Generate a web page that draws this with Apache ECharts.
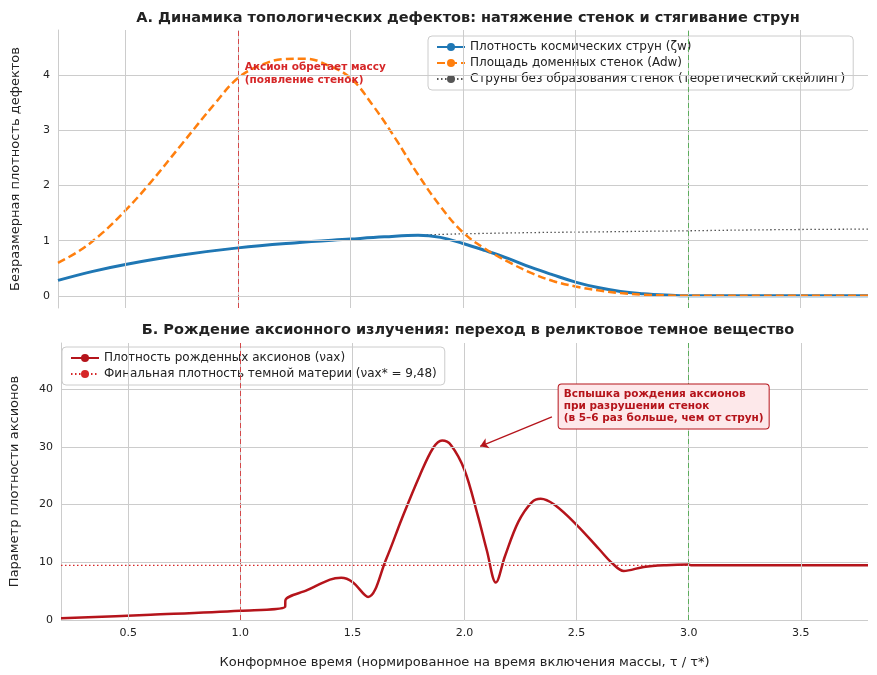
<!DOCTYPE html>
<html><head><meta charset="utf-8">
<script src="https://cdn.jsdelivr.net/npm/echarts@6/dist/echarts.min.js"></script>
<style>html,body{margin:0;padding:0;background:#fff}#c{width:877px;height:675px}</style>
</head><body><div id="c"></div>
<script>
const xTicks=[0.5,1.0,1.5,2.0,2.5,3.0,3.5];
const xTickLabels=['0.5','1.0','1.5','2.0','2.5','3.0','3.5'];
const strings=[[0.2,0.28],[0.35,0.44],[0.5,0.57],[0.75,0.74],[1.0,0.87],[1.25,0.96],[1.5,1.03],[1.65,1.07],[1.8,1.1],[1.9,1.06],[2.0,0.95],[2.1,0.82],[2.2,0.68],[2.3,0.52],[2.4,0.38],[2.5,0.25],[2.6,0.15],[2.7,0.08],[2.8,0.04],[2.9,0.015],[3.0,0.0],[3.4,0],[3.8,0]];
const walls=[[0.2,0.6],[0.3,0.83],[0.4,1.15],[0.5,1.55],[0.6,2.0],[0.75,2.75],[0.9,3.5],[1.0,3.95],[1.1,4.18],[1.2,4.29],[1.3,4.3],[1.4,4.18],[1.5,3.95],[1.6,3.45],[1.7,2.85],[1.8,2.2],[1.9,1.62],[2.0,1.15],[2.1,0.85],[2.2,0.62],[2.3,0.42],[2.4,0.27],[2.5,0.17],[2.6,0.1],[2.7,0.05],[2.8,0.02],[2.9,0.01],[3.0,0],[3.4,0],[3.8,0]];
const scaling=[[0.2,0.28],[0.35,0.44],[0.5,0.57],[0.75,0.74],[1.0,0.87],[1.25,0.96],[1.5,1.03],[1.8,1.1],[2.2,1.14],[2.6,1.16],[3.0,1.18],[3.4,1.2],[3.8,1.21]];
const axions=[[0.2,0.3],[0.6,0.9],[1.0,1.6],[1.2,2.3],[1.201,3.4],[1.3,5.2],[1.4,7.0],[1.45,7.3],[1.5,6.6],[1.57,4.0],[1.65,10.5],[1.72,17.5],[1.8,25],[1.86,29.8],[1.9,31.1],[1.94,30.3],[2.0,26],[2.06,18],[2.1,12],[2.14,6.5],[2.18,11],[2.24,17],[2.3,20.4],[2.34,21],[2.4,20],[2.5,16.5],[2.6,12.3],[2.66,9.8],[2.71,8.5],[2.8,9.2],[2.9,9.5],[3.0,9.6],[3.01,9.5],[3.8,9.5]];
const finalDensity=9.48;
const font='DejaVu Sans';
const xBase={type:'value',min:0.2,max:3.8,
 axisLine:{show:false},axisTick:{show:false},
 splitLine:{show:false},
 axisLabel:{customValues:xTicks,color:'#222',fontSize:11,fontFamily:font,formatter:v=>xTickLabels[xTicks.findIndex(t=>Math.abs(t-v)<1e-6)]??''}};
const vlinesData=()=>[
 {xAxis:1.0,lineStyle:{color:'#d62728',type:[5,3],width:1,opacity:0.8}},
 {xAxis:3.0,lineStyle:{color:'#2ca02c',type:[5,3],width:1,opacity:0.7}}];
const gridSeries=(i)=>({type:'line',xAxisIndex:i,yAxisIndex:i,data:[],z:0,silent:true,
 markLine:{silent:true,symbol:'none',label:{show:false},lineStyle:{color:'#cccccc',type:'solid',width:1},data:xTicks.map(t=>({xAxis:t}))}});
const vSeries=(i)=>({type:'line',xAxisIndex:i,yAxisIndex:i,data:[],z:2,silent:true,
 markLine:{silent:true,symbol:'none',label:{show:false},data:vlinesData()}});
const chart=echarts.init(document.getElementById('c'));
chart.setOption({
 animation:false,backgroundColor:'#fff',textStyle:{fontFamily:font},
 title:[{text:'А. Динамика топологических дефектов: натяжение стенок и стягивание струн',left:463,top:6,textAlign:'center',textStyle:{fontSize:14.5,fontWeight:'bold',color:'#222',fontFamily:font}},
  {text:'Б. Рождение аксионного излучения: переход в реликтовое темное вещество',left:463,top:318,textAlign:'center',textStyle:{fontSize:14.5,fontWeight:'bold',color:'#222',fontFamily:font}}],
 grid:[{left:58,right:9,top:30,height:278},{left:58,right:9,top:343,height:277}],
 xAxis:[Object.assign({gridIndex:0},xBase,{axisLabel:{show:false}}),
  Object.assign({gridIndex:1},xBase,{name:'Конформное время (нормированное на время включения массы, τ / τ*)',nameLocation:'middle',nameGap:36,nameTextStyle:{fontSize:13,color:'#222',fontFamily:font}})],
 yAxis:[{gridIndex:0,type:'value',min:-0.22,max:4.82,axisLine:{show:true,lineStyle:{color:'#ccc'}},axisTick:{show:false},
   splitLine:{show:false},axisLabel:{customValues:[0,1,2,3,4],color:'#222',fontSize:11,fontFamily:font},
   name:'Безразмерная плотность дефектов',nameLocation:'middle',nameGap:36,nameTextStyle:{fontSize:13,color:'#222',fontFamily:font}},
  {gridIndex:1,type:'value',min:0,max:48,axisLine:{show:true,lineStyle:{color:'#ccc'}},axisTick:{show:false},
   splitLine:{show:false},axisLabel:{customValues:[0,10,20,30,40],color:'#222',fontSize:11,fontFamily:font},
   name:'Параметр плотности аксионов',nameLocation:'middle',nameGap:40,nameTextStyle:{fontSize:13,color:'#222',fontFamily:font}}],
 legend:[{left:428,top:36,orient:'vertical',itemGap:4,itemWidth:28,itemHeight:10,backgroundColor:'rgba(255,255,255,0.9)',borderColor:'#ccc',borderWidth:1,borderRadius:4,padding:[5,8],
   textStyle:{fontSize:12,color:'#222',fontFamily:font},data:['Плотность космических струн (ζw)','Площадь доменных стенок (Adw)','Струны без образования стенок (теоретический скейлинг)']},
  {left:62,top:347,orient:'vertical',itemGap:4,itemWidth:28,itemHeight:10,backgroundColor:'rgba(255,255,255,0.9)',borderColor:'#ccc',borderWidth:1,borderRadius:4,padding:[5,8],
   textStyle:{fontSize:12,color:'#222',fontFamily:font},data:['Плотность рожденных аксионов (νax)','Финальная плотность темной материи (νax* = 9,48)']}],
 series:[
  gridSeries(0),gridSeries(1),vSeries(0),vSeries(1),
  {type:'line',xAxisIndex:0,yAxisIndex:0,data:[],z:0,silent:true,markLine:{silent:true,symbol:'none',label:{show:false},lineStyle:{color:'#cccccc',type:'solid',width:1},data:[0,1,2,3,4].map(v=>({yAxis:v}))}},
  {type:'line',xAxisIndex:1,yAxisIndex:1,data:[],z:0,silent:true,markLine:{silent:true,symbol:'none',label:{show:false},lineStyle:{color:'#cccccc',type:'solid',width:1},data:[0,10,20,30,40].map(v=>({yAxis:v}))}},
  {name:'Струны без образования стенок (теоретический скейлинг)',type:'line',symbol:'none',xAxisIndex:0,yAxisIndex:0,data:scaling,smooth:0.4,lineStyle:{color:'#555',width:1.3,type:[1.5,2.5]},itemStyle:{color:'#555'}},
  {name:'Плотность космических струн (ζw)',type:'line',symbol:'none',xAxisIndex:0,yAxisIndex:0,data:strings,smooth:0.4,lineStyle:{color:'#1f77b4',width:3},itemStyle:{color:'#1f77b4'},z:3},
  {name:'Площадь доменных стенок (Adw)',type:'line',symbol:'none',xAxisIndex:0,yAxisIndex:0,data:walls,smooth:0.4,lineStyle:{color:'#ff7f0e',width:2.5,type:[8,4]},itemStyle:{color:'#ff7f0e'},z:4,
   markPoint:{symbol:'rect',symbolSize:0,data:[{coord:[1.03,4.02],label:{show:true,position:'right',distance:0,align:'left',verticalAlign:'middle',formatter:'Аксион обретает массу\n(появление стенок)',color:'#d62728',fontWeight:'bold',fontSize:10.5,lineHeight:13,fontFamily:font}}]}},
  {name:'Плотность рожденных аксионов (νax)',type:'line',symbol:'none',xAxisIndex:1,yAxisIndex:1,data:axions,smooth:0.35,lineStyle:{color:'#b5141b',width:2.5},itemStyle:{color:'#b5141b'},z:4,
   markLine:{silent:true,symbol:['none','arrow'],symbolSize:8,label:{show:false},lineStyle:{color:'#b5141b',type:'solid',width:1.3},
    data:[[{coord:[2.39,35.2]},{coord:[2.07,30.1]}]]},
   markPoint:{symbol:'rect',symbolSize:0,data:[{coord:[2.42,37],label:{show:true,position:'inside',align:'left',verticalAlign:'middle',formatter:'Вспышка рождения аксионов\nпри разрушении стенок\n(в 5–6 раз больше, чем от струн)',color:'#b5141b',fontWeight:'bold',fontSize:10.5,lineHeight:12,fontFamily:font,backgroundColor:'#fde8ea',borderColor:'#b5141b',borderWidth:1,borderRadius:3,padding:[4,5]}}]}},
  {name:'Финальная плотность темной материи (νax* = 9,48)',type:'line',symbol:'none',xAxisIndex:1,yAxisIndex:1,data:[[0.2,finalDensity],[3.8,finalDensity]],lineStyle:{color:'#d62728',width:1.3,type:[1.5,2.5]},itemStyle:{color:'#d62728'},z:3}
 ]
});
</script></body></html>
